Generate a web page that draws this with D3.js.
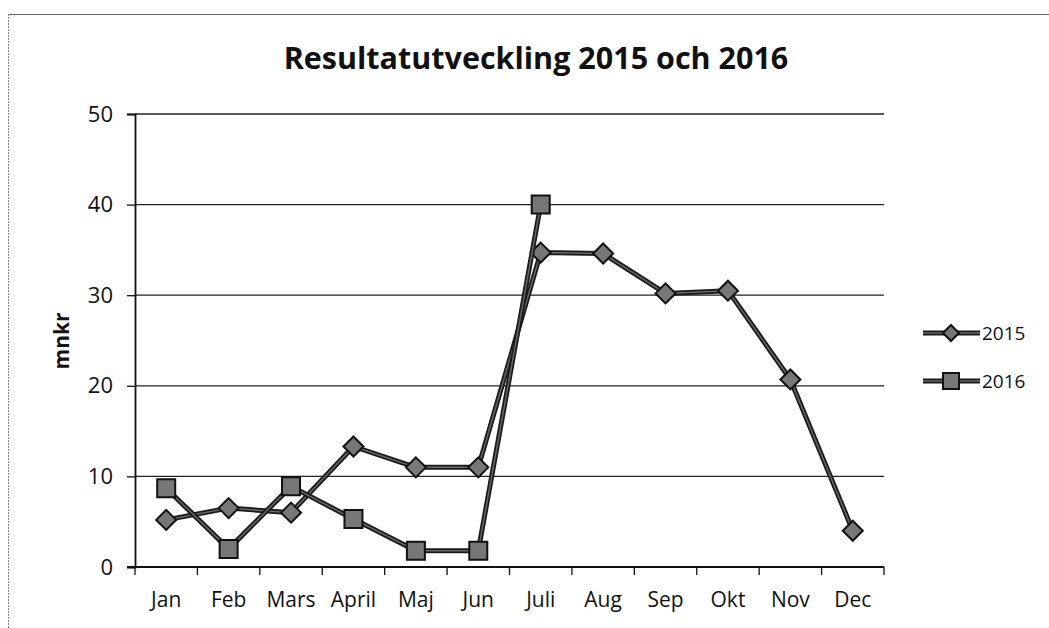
<!DOCTYPE html>
<html>
<head>
<meta charset="utf-8">
<script src="https://cdn.jsdelivr.net/npm/d3@7"></script>
<style>
  body { margin: 0; background: #fff; }
  svg { display: block; }
</style>
</head>
<body>
<svg width="1049" height="628"></svg>
<script>
const months = ["Jan", "Feb", "Mars", "April", "Maj", "Jun", "Juli", "Aug", "Sep", "Okt", "Nov", "Dec"]
const values2015 = [5.2, 6.5, 6.0, 13.3, 11.0, 11.0, 34.7, 34.6, 30.2, 30.5, 20.7, 4.0]
const values2016 = [8.7, 2.0, 8.9, 5.3, 1.8, 1.8, 40.0]
const yTicks = [0, 10, 20, 30, 40, 50]

const svg = d3.select("svg")
const font = "'Open Sans', 'Noto Sans', sans-serif"

// chart frame (scanned border, left + top)
svg.append("line").attr("x1", 8).attr("x2", 1049).attr("y1", 14.5).attr("y2", 14.5)
  .attr("stroke", "#666").attr("stroke-width", 1)
svg.append("line").attr("x1", 8.5).attr("x2", 8.5).attr("y1", 14).attr("y2", 628)
  .attr("stroke", "#888").attr("stroke-width", 1).attr("stroke-dasharray", "2,1")

const x = d3.scaleBand().domain(months).range([135, 884])
const y = d3.scaleLinear().domain([0, 50]).range([567, 114])

// gridlines
svg.append("g").selectAll("line").data(yTicks.slice(1)).enter().append("line")
  .attr("x1", 135).attr("x2", 884)
  .attr("y1", d => y(d)).attr("y2", d => y(d))
  .attr("stroke", "#222").attr("stroke-width", 1.3)

// y axis
const yAxis = svg.append("g").attr("transform", "translate(135,0)")
  .call(d3.axisLeft(y).tickValues(yTicks).tickSize(8).tickPadding(14))
yAxis.select(".domain").attr("stroke", "#111").attr("stroke-width", 1.8)
yAxis.selectAll(".tick line").attr("stroke", "#111").attr("stroke-width", 1.3)
yAxis.selectAll("text").style("font-family", font).style("font-size", "22px").attr("fill", "#111")

// x axis with ticks between categories
svg.append("line").attr("x1", 127).attr("x2", 884).attr("y1", y(0)).attr("y2", y(0))
  .attr("stroke", "#111").attr("stroke-width", 1.8)
const bounds = months.map(m => x(m)).concat([x.range()[1]])
svg.append("g").selectAll("line").data(bounds).enter().append("line")
  .attr("x1", d => d).attr("x2", d => d)
  .attr("y1", y(0)).attr("y2", y(0) + 8)
  .attr("stroke", "#111").attr("stroke-width", 1.3)
svg.append("g").selectAll("text").data(months).enter().append("text")
  .attr("x", d => x(d) + x.bandwidth() / 2)
  .attr("y", 607)
  .attr("text-anchor", "middle")
  .style("font-family", font).style("font-size", "21px").attr("fill", "#111")
  .text(d => d)

// y label
svg.append("text")
  .attr("transform", "translate(69,341) rotate(-90)")
  .attr("text-anchor", "middle")
  .style("font-family", font).style("font-size", "21px").style("font-weight", "bold")
  .attr("fill", "#111")
  .text("mnkr")

// title
svg.append("text")
  .attr("x", 536).attr("y", 69)
  .attr("text-anchor", "middle")
  .style("font-family", font).style("font-size", "30.5px").style("font-weight", "bold")
  .attr("fill", "#111")
  .text("Resultatutveckling 2015 och 2016")

const cx = (d, i) => x(months[i]) + x.bandwidth() / 2
const line = d3.line().x((d, i) => cx(d, i)).y(d => y(d))

function drawSeries(vals, marker) {
  const g = svg.append("g")
  g.append("path").datum(vals).attr("d", line)
    .attr("fill", "none").attr("stroke", "#1a1a1a").attr("stroke-width", 5).attr("stroke-linejoin", "round")
  g.append("path").datum(vals).attr("d", line)
    .attr("fill", "none").attr("stroke", "#666").attr("stroke-width", 1.5).attr("stroke-linejoin", "round")
  g.selectAll("path.m").data(vals).enter().append("path")
    .attr("class", "m")
    .attr("transform", (d, i) => "translate(" + cx(d, i) + "," + y(d) + ")")
    .attr("d", marker)
    .attr("fill", "#777").attr("stroke", "#111").attr("stroke-width", 2)
}

const diamond = "M0,-10L10,0L0,10L-10,0Z"
const square = "M-9,-9H9V9H-9Z"

drawSeries(values2015, diamond)
drawSeries(values2016, square)

// legend
const legend = [{ name: "2015", marker: "M0,-8L8,0L0,8L-8,0Z", ly: 333 }, { name: "2016", marker: "M-8,-8H8V8H-8Z", ly: 381 }]
legend.forEach(l => {
  svg.append("line").attr("x1", 923).attr("x2", 980).attr("y1", l.ly).attr("y2", l.ly)
    .attr("stroke", "#1a1a1a").attr("stroke-width", 5)
  svg.append("line").attr("x1", 923).attr("x2", 980).attr("y1", l.ly).attr("y2", l.ly)
    .attr("stroke", "#666").attr("stroke-width", 1.5)
  svg.append("path").attr("transform", "translate(951," + l.ly + ")")
    .attr("d", l.marker)
    .attr("fill", "#777").attr("stroke", "#111").attr("stroke-width", 2)
  svg.append("text").attr("x", 982).attr("y", l.ly + 7)
    .style("font-family", font).style("font-size", "19px").attr("fill", "#111")
    .text(l.name)
})
</script>
</body>
</html>
